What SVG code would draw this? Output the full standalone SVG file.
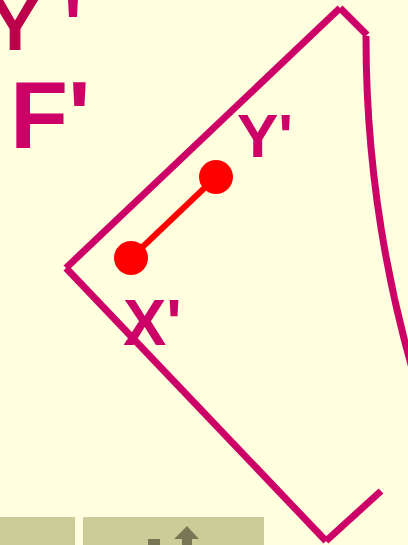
<svg xmlns="http://www.w3.org/2000/svg" width="408" height="545" viewBox="0 0 408 545">
<style>
.lbl{font-family:"Liberation Sans",Arial,sans-serif;font-weight:bold;fill:#CC0066}
.edge{stroke:#CC0066;stroke-width:7;fill:none;stroke-linecap:butt}
.seg{stroke:#FF0000;stroke-width:6}
.dot{fill:#FF0000}
.bar{fill:#CCCC99}
.ico{fill:#777755}
</style>
<rect width="408" height="545" fill="#FFFFE0"/>
<g id="title-y">
<text class="lbl" x="-10" y="50" font-size="75"><tspan fill="#BC004C">Y</tspan><tspan dx="24">'</tspan></text>
</g>
<g id="title-f">
<text class="lbl" x="10" y="148" font-size="95">F'</text>
</g>
<g id="connectors">
<line class="edge" x1="66" y1="268" x2="340" y2="8"/>
<line class="edge" x1="340" y1="8" x2="367" y2="35"/>
<path class="edge" d="M366,36 A1216,1216 0 0 0 428,420"/>
<line class="edge" x1="66" y1="268" x2="326" y2="541"/>
<line class="edge" x1="326" y1="541" x2="381" y2="491"/>
</g>
<g id="segment-xy">
<line class="seg" x1="131" y1="258" x2="216" y2="177"/>
<circle class="dot" cx="131" cy="258" r="17"/>
<circle class="dot" cx="216" cy="177" r="17"/>
</g>
<g id="label-y">
<text class="lbl" x="237" y="157" font-size="62">Y'</text>
</g>
<g id="label-x">
<text class="lbl" x="123" y="345" font-size="65">X'</text>
</g>
<g id="toolbar">
<rect class="bar" x="0" y="517" width="75" height="28"/>
<rect class="bar" x="83" y="517" width="181" height="28"/>
<rect class="ico" x="148" y="539" width="12" height="6"/>
<polygon class="ico" points="187,526 199,539 192,539 192,545 182,545 182,539 174,539"/>
</g>
</svg>
